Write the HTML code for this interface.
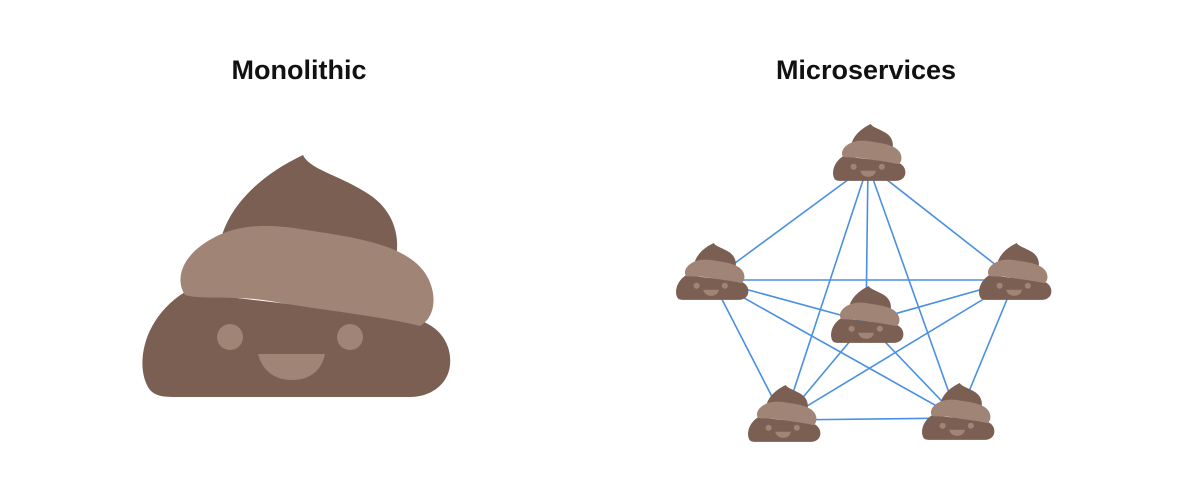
<!DOCTYPE html>
<html><head><meta charset="utf-8"><style>
html,body{margin:0;padding:0;background:#fff;}
svg{display:block}
</style></head><body>
<svg width="1200" height="501" viewBox="0 0 1200 501" xmlns="http://www.w3.org/2000/svg">
<defs>
<g id="poop" transform="translate(-138,-155)">
<path fill="#7a5f52" d="M303 155 C310 170 340 175 370 195 C395 212 402 240 394 265 L218 265 C216 220 250 180 303 155 Z"/>
<path fill="#7a5f52" d="M150 390 C135 370 140 320 185 292 L410 318 C440 323 452 345 450 365 C448 385 430 397 410 397 L175 397 C160 397 155 395 150 390 Z"/>
<path fill="#a08476" d="M185 295 C175 280 180 255 215 237 C240 224 270 224 300 229 C350 237 410 243 428 278 C438 298 434 318 420 326 C380 316 320 310 270 301 C235 295 200 300 185 295 Z"/>
<circle cx="230" cy="337" r="13" fill="#a08476"/>
<circle cx="350" cy="337" r="13" fill="#a08476"/>
<path fill="#a08476" d="M258 354 L325 354 C322 370 310 380 292 380 C274 380 262 370 258 354 Z"/>
</g>
</defs>
<text x="299" y="79" text-anchor="middle" font-family="Liberation Sans, sans-serif" font-weight="bold" font-size="27" fill="#111">Monolithic</text>
<text x="866" y="79" text-anchor="middle" font-family="Liberation Sans, sans-serif" font-weight="bold" font-size="27" fill="#111">Microservices</text>
<use href="#poop" transform="translate(138,155)"/>
<g stroke="#4a90e2" stroke-width="1.6">
<line x1="868" y1="165" x2="712" y2="280"/>
<line x1="868" y1="165" x2="1015" y2="280"/>
<line x1="868" y1="165" x2="866" y2="322"/>
<line x1="868" y1="165" x2="784" y2="420"/>
<line x1="868" y1="165" x2="958" y2="418"/>
<line x1="712" y1="280" x2="1015" y2="280"/>
<line x1="712" y1="280" x2="866" y2="322"/>
<line x1="712" y1="280" x2="784" y2="420"/>
<line x1="712" y1="280" x2="958" y2="418"/>
<line x1="1015" y1="280" x2="866" y2="322"/>
<line x1="1015" y1="280" x2="784" y2="420"/>
<line x1="1015" y1="280" x2="958" y2="418"/>
<line x1="866" y1="322" x2="784" y2="420"/>
<line x1="866" y1="322" x2="958" y2="418"/>
<line x1="784" y1="420" x2="958" y2="418"/>
</g>
<use href="#poop" transform="translate(832,124) scale(0.235)"/>
<use href="#poop" transform="translate(675,243) scale(0.235)"/>
<use href="#poop" transform="translate(978,243) scale(0.235)"/>
<use href="#poop" transform="translate(830,286) scale(0.235)"/>
<use href="#poop" transform="translate(747,385) scale(0.235)"/>
<use href="#poop" transform="translate(921,383) scale(0.235)"/>
</svg>
</body></html>
